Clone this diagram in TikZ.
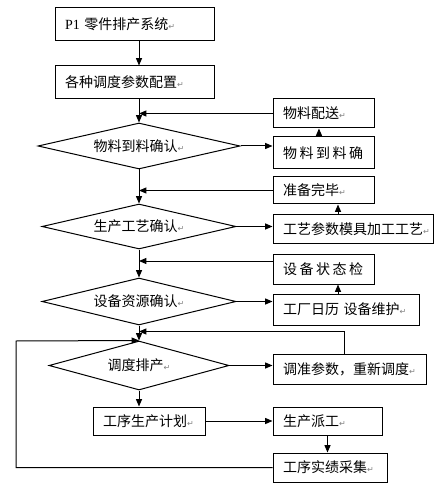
\documentclass[tikz,border=0pt]{standalone}
\usepackage{fontspec}
\newfontfamily\cjk{Noto Sans CJK SC}
\newfontfamily\lserif{Liberation Serif}
\newfontfamily\dejavu{DejaVu Sans}
\usetikzlibrary{shapes.geometric,arrows.meta}
\newcommand{\pmark}{{\dejavu\fontsize{6}{6}\selectfont\textcolor{gray}{↵}}}
\newcommand{\gp}{\hspace{1.9pt}}
\begin{document}
\begin{tikzpicture}[x=0.75pt,y=-0.75pt,
  every node/.style={font=\cjk\fontsize{10.5}{12}\selectfont},
  box/.style={draw, line width=0.75pt, rectangle, inner xsep=7.5pt, inner ysep=0pt, align=left},
  dia/.style={draw, line width=0.75pt, diamond, aspect=4.4, inner sep=0pt, align=center},
  link/.style={line width=0.75pt, -{Triangle[length=5.5pt,width=4.5pt]}}]
\useasboundingbox (0,0) rectangle (443,491);

% left column
\node[box, text width=104.25pt, minimum height=24.75pt] (b1) at (134.5,24.5) {{\lserif P1} 零件排产系统\pmark};
\node[box, text width=104.25pt, minimum height=24.75pt] (b2) at (134.5,82.5) {各种调度参数配置\pmark};
\node[dia, minimum width=151.5pt, minimum height=34.5pt] (d1) at (139,146) {物料到料确认\pmark};
\node[dia, minimum width=145.5pt, minimum height=33.75pt] (d2) at (139,226.5) {生产工艺确认\pmark};
\node[dia, minimum width=145.5pt, minimum height=35.25pt] (d3) at (139,301.5) {设备资源确认\pmark};
\node[dia, minimum width=135pt, minimum height=36.75pt] (d4) at (139,365.5) {调度排产\pmark};
\node[box, text width=69pt, minimum height=21pt] (r8) at (149,421) {工序生产计划\pmark};

% right column
\node[box, text width=60.75pt, minimum height=21.75pt] (r1) at (323.5,113.5) {物料配送\pmark};
\node[box, text width=60.75pt, minimum height=24pt] (r2) at (323.5,153) {物\gp 料\gp 到\gp 料\gp 确};
\node[box, text width=60.75pt, minimum height=20.25pt] (r3) at (323.5,190.5) {准备完毕\pmark};
\node[box, text width=105pt, minimum height=21pt] (r4) at (353,229) {工艺参数模具加工工艺\pmark};
\node[box, text width=60.75pt, minimum height=22.5pt] (r5) at (323.5,269) {设\gp 备\gp 状\gp 态\gp 检};
\node[box, text width=94.5pt, minimum height=23.25pt] (r6) at (346,309.5) {工厂日历 设备维护\pmark};
\node[box, text width=99.75pt, minimum height=22.5pt] (r7) at (349.5,369) {调准参数，重新调度\pmark};
\node[box, text width=66.75pt, minimum height=21pt] (r9) at (327.5,421) {生产派工\pmark};
\node[box, text width=70.5pt, minimum height=21.75pt] (r10) at (330,467.5) {工序实绩采集\pmark};

\coordinate (loopc) at (16,341);

% main flow
\draw[link] (b1.south -| d1.north) -- (b2.north -| d1.north);
\draw[link] (b2.south -| d1.north) -- (d1.north);
\draw[link] (d1.south) -- (d2.north);
\draw[link] (d2.south) -- (d3.north);
\draw[link] (d3.south) -- (d4.north);
\draw[link] (d4.south) -- (d4.south |- r8.north);
\draw[link] (r8.east) -- (r8.east -| r9.west);
\draw[link] (r9.south) -- (r9.south |- r10.north);
\draw[link] (r10.west) -| (loopc) -- (d4.north);

% side branches
\draw[link] (d1.east) -- (d1.east -| r2.west);
\draw[link] ([xshift=-3.4pt]r2.north) -- ([xshift=-3.4pt]r1.south);
\draw[link] (r1.west) -- (r1.west -| d1.north);

\draw[link] (d2.east) -- (d2.east -| r4.west);
\draw[link] ([xshift=-11.25pt]r4.north) -- ([xshift=-11.25pt]r4.north |- r3.south);
\draw[link] (r3.west) -- (r3.west -| d2.north);

\draw[link] (d3.east) -- (d3.east -| r6.west);
\draw[link] ([xshift=-6pt]r6.north) -- ([xshift=-6pt]r6.north |- r5.south);
\draw[link] ([yshift=6pt]r5.west) -- ([yshift=6pt]r5.west -| d3.north);

\draw[link] (d4.east) -- (d4.east -| r7.west);
\draw[link] ([xshift=-4pt]r7.north) |- ([yshift=6.75pt]d4.north);
\end{tikzpicture}
\end{document}
